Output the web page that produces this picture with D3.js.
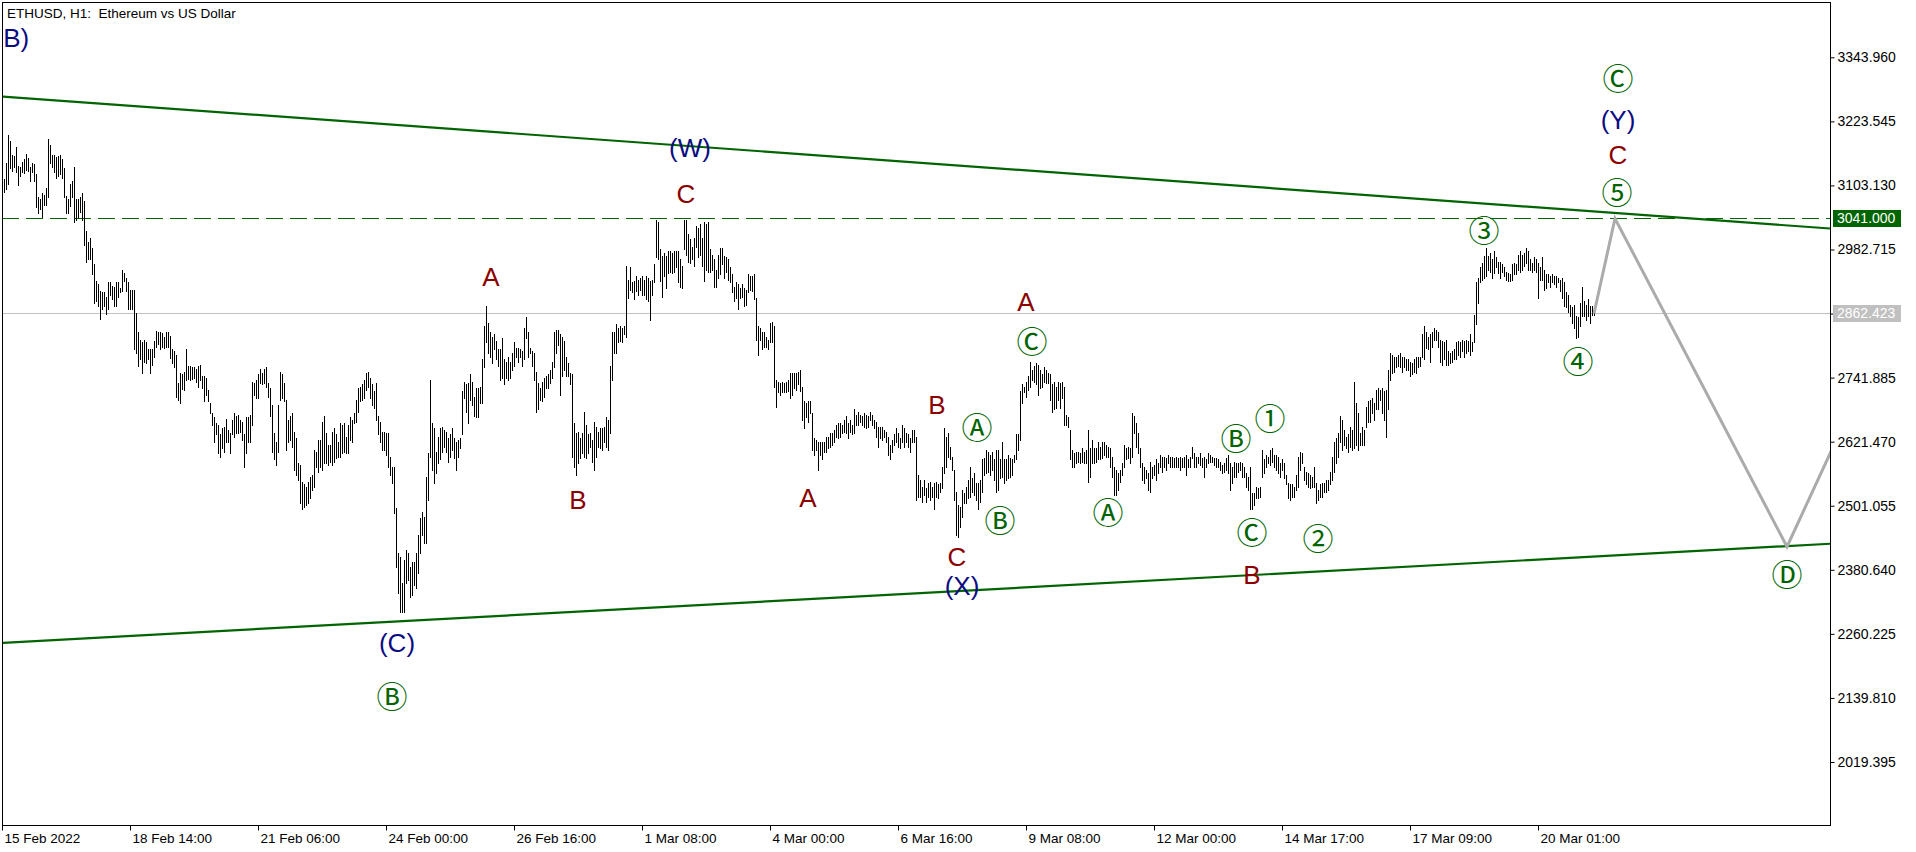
<!DOCTYPE html>
<html><head><meta charset="utf-8">
<script src="https://cdn.jsdelivr.net/npm/d3@7"></script>
<style>
html,body{margin:0;padding:0;background:#fff;overflow:hidden}
svg{display:block}
</style></head><body>
<svg id="chart" width="1916" height="852"></svg>
<script>
const title = "ETHUSD, H1:  Ethereum vs US Dollar";
const xTickLabels = ["15 Feb 2022","18 Feb 14:00","21 Feb 06:00","24 Feb 00:00","26 Feb 16:00","1 Mar 08:00","4 Mar 00:00","6 Mar 16:00","9 Mar 08:00","12 Mar 00:00","14 Mar 17:00","17 Mar 09:00","20 Mar 01:00"];
const barsPerTick = 64;
const yTicks = [3343.960,3223.545,3103.130,2982.715,2862.300,2741.885,2621.470,2501.055,2380.640,2260.225,2139.810,2019.395];

const highs = [
3116,3116,3146,3197,3186,3161,3158,3175,3139,3137,3148,3152,3163,3154,3137,3146,3143,3124,3082,3077,
3088,3086,3099,3190,3180,3160,3161,3156,3158,3160,3152,3135,3084,3077,3105,3111,3137,3077,3077,3081,
3088,3073,3017,2996,3005,2986,2956,2923,2917,2904,2902,2902,2894,2921,2921,2915,2913,2921,2921,2911,
2945,2939,2930,2921,2907,2907,2907,2864,2827,2813,2808,2813,2808,2795,2795,2795,2810,2830,2827,2828,
2825,2819,2827,2827,2821,2795,2791,2785,2732,2751,2749,2753,2795,2764,2763,2761,2761,2759,2763,2766,
2744,2744,2742,2719,2695,2676,2667,2657,2653,2635,2648,2650,2665,2644,2638,2663,2676,2669,2672,2663,
2659,2635,2667,2667,2672,2734,2732,2738,2748,2759,2751,2759,2761,2732,2723,2691,2638,2621,2691,2753,
2748,2732,2700,2663,2669,2676,2640,2629,2582,2578,2546,2541,2537,2546,2556,2558,2606,2603,2625,2625,
2659,2669,2638,2616,2616,2640,2648,2635,2621,2657,2653,2657,2631,2653,2667,2663,2676,2700,2723,2725,
2729,2738,2751,2753,2742,2729,2716,2732,2669,2659,2640,2640,2638,2638,2593,2574,2574,2497,2413,2405,
2356,2400,2418,2413,2386,2396,2396,2413,2447,2478,2490,2480,2556,2601,2738,2657,2648,2603,2631,2648,
2650,2644,2640,2629,2635,2648,2629,2620,2625,2629,2716,2734,2729,2732,2748,2734,2706,2723,2723,2725,
2776,2838,2876,2845,2827,2819,2823,2810,2795,2795,2817,2776,2772,2780,2772,2789,2808,2798,2798,2795,
2791,2836,2855,2828,2798,2791,2789,2753,2732,2723,2734,2742,2744,2748,2757,2772,2827,2832,2832,2823,
2819,2810,2780,2770,2751,2748,2657,2638,2640,2629,2638,2678,2653,2635,2638,2625,2659,2650,2640,2648,
2648,2650,2667,2663,2763,2828,2828,2842,2836,2838,2836,2838,2951,2926,2949,2921,2923,2932,2926,2930,
2932,2926,2932,2930,2923,2926,2955,3039,3034,2983,2970,2977,2970,2979,2979,2977,2979,2979,2979,2964,
2951,3039,3039,3011,3002,2988,3005,3026,3024,3030,3005,3034,3030,3035,2983,2973,2964,2945,2973,2986,
2986,2970,2968,2964,2949,2936,2913,2921,2917,2911,2917,2911,2907,2936,2932,2932,2936,2892,2838,2836,
2828,2827,2819,2813,2845,2847,2838,2738,2734,2732,2734,2732,2734,2738,2751,2751,2751,2751,2753,2757,
2725,2697,2695,2697,2697,2676,2629,2625,2620,2621,2621,2620,2631,2631,2638,2638,2644,2653,2657,2657,
2653,2663,2669,2657,2663,2653,2682,2672,2678,2672,2669,2676,2672,2669,2678,2672,2663,2659,2650,2650,
2650,2644,2640,2631,2616,2625,2635,2648,2638,2629,2653,2648,2638,2635,2629,2644,2644,2631,2559,2550,
2537,2550,2535,2544,2546,2537,2544,2546,2541,2544,2574,2648,2631,2638,2612,2593,2569,2527,2503,2499,
2531,2525,2537,2550,2573,2554,2563,2544,2544,2550,2588,2591,2606,2603,2597,2603,2588,2606,2606,2588,
2621,2588,2588,2597,2591,2588,2597,2635,2635,2716,2729,2725,2734,2744,2772,2757,2763,2770,2766,2757,
2748,2761,2757,2751,2748,2729,2734,2725,2734,2732,2734,2725,2672,2667,2644,2606,2601,2603,2603,2601,
2610,2603,2606,2644,2610,2625,2610,2610,2620,2612,2620,2620,2616,2612,2610,2593,2574,2569,2563,2569,
2582,2616,2610,2612,2610,2676,2669,2657,2638,2610,2582,2574,2569,2563,2584,2574,2578,2588,2582,2597,
2593,2593,2591,2597,2593,2593,2591,2593,2591,2593,2591,2593,2597,2588,2593,2612,2601,2593,2593,2601,
2591,2593,2588,2601,2597,2593,2591,2591,2588,2584,2578,2582,2591,2597,2582,2573,2584,2582,2582,2584,
2582,2574,2563,2556,2574,2525,2525,2537,2535,2537,2606,2588,2597,2593,2606,2610,2597,2597,2593,2582,
2588,2582,2559,2544,2541,2541,2537,2559,2593,2603,2601,2574,2565,2563,2559,2556,2574,2544,2531,2541,
2544,2544,2550,2550,2565,2593,2620,2629,2638,2669,2663,2644,2631,2635,2650,2644,2734,2695,2676,2638,
2650,2644,2687,2697,2700,2704,2695,2719,2723,2719,2723,2716,2719,2757,2789,2785,2781,2780,2785,2789,
2781,2780,2776,2776,2772,2770,2776,2780,2780,2781,2823,2838,2828,2819,2823,2828,2836,2832,2828,2813,
2810,2808,2813,2791,2789,2791,2795,2808,2810,2808,2813,2810,2813,2810,2823,2808,2860,2921,2930,2949,
2958,2970,2986,2970,2977,2964,2979,2968,2960,2960,2955,2949,2941,2939,2936,2955,2958,2955,2973,2979,
2973,2977,2986,2979,2964,2958,2968,2964,2958,2949,2968,2945,2936,2936,2932,2936,2932,2932,2930,2926,
2930,2921,2902,2898,2879,2874,2879,2857,2855,2883,2913,2885,2879,2889,2876,2876,2866
];

const lows = [
3090,3090,3096,3105,3135,3131,3137,3128,3103,3120,3128,3126,3133,3130,3111,3128,3111,3062,3052,3058,
3043,3067,3067,3082,3146,3137,3128,3118,3120,3124,3118,3082,3052,3052,3064,3081,3034,3039,3043,3054,
3039,2992,2960,2964,2964,2936,2883,2885,2876,2853,2870,2876,2862,2870,2898,2889,2876,2876,2894,2902,
2904,2923,2904,2870,2870,2870,2795,2789,2763,2776,2751,2772,2770,2776,2751,2766,2780,2800,2806,2796,
2800,2798,2800,2800,2778,2770,2761,2706,2700,2695,2721,2719,2738,2740,2738,2740,2742,2734,2725,2738,
2723,2697,2710,2697,2676,2653,2621,2635,2601,2593,2610,2603,2620,2620,2601,2635,2631,2638,2638,2640,
2625,2574,2601,2620,2620,2653,2710,2704,2704,2732,2729,2732,2725,2706,2669,2603,2588,2578,2603,2700,
2704,2697,2606,2621,2625,2612,2569,2559,2550,2507,2494,2499,2503,2507,2516,2531,2537,2574,2565,2573,
2569,2582,2582,2578,2584,2578,2584,2591,2593,2593,2601,2603,2601,2601,2625,2620,2657,2659,2678,2697,
2700,2704,2719,2725,2704,2691,2685,2663,2635,2621,2606,2606,2597,2574,2559,2544,2488,2386,2337,2302,
2302,2302,2356,2362,2330,2334,2352,2347,2375,2413,2447,2431,2431,2512,2593,2569,2544,2563,2582,2588,
2603,2612,2603,2584,2593,2606,2591,2569,2593,2610,2635,2704,2678,2657,2700,2691,2669,2667,2667,2695,
2695,2761,2808,2789,2781,2770,2795,2776,2763,2738,2742,2729,2742,2738,2742,2757,2763,2780,2772,2780,
2763,2776,2817,2780,2789,2763,2738,2678,2682,2700,2697,2706,2723,2723,2732,2742,2761,2789,2804,2710,
2744,2757,2744,2744,2729,2593,2574,2559,2582,2591,2601,2593,2591,2601,2612,2584,2569,2593,2612,2610,
2606,2620,2612,2606,2638,2738,2789,2789,2808,2810,2808,2823,2819,2892,2907,2902,2889,2904,2898,2907,
2898,2898,2889,2885,2851,2898,2921,2968,2964,2923,2894,2932,2911,2939,2941,2939,2941,2949,2921,2913,
2911,2983,2973,2960,2958,2964,2951,2988,2968,2973,2951,2923,2945,2941,2941,2945,2913,2913,2930,2936,
2955,2930,2941,2926,2921,2902,2885,2892,2870,2892,2894,2876,2879,2902,2907,2904,2889,2813,2785,2813,
2795,2800,2800,2795,2808,2808,2725,2687,2714,2710,2714,2714,2714,2716,2704,2710,2723,2719,2729,2716,
2663,2648,2667,2659,2676,2606,2597,2606,2569,2597,2588,2603,2603,2610,2612,2616,2620,2631,2629,2631,
2638,2640,2638,2629,2640,2635,2638,2653,2653,2659,2653,2650,2648,2650,2663,2653,2648,2631,2612,2629,
2625,2631,2620,2597,2588,2603,2616,2620,2612,2610,2620,2612,2620,2612,2603,2620,2620,2512,2518,2518,
2509,2522,2509,2518,2512,2518,2494,2518,2516,2526,2535,2563,2574,2593,2588,2569,2512,2447,2443,2462,
2480,2507,2507,2516,2518,2526,2522,2512,2494,2509,2527,2559,2563,2565,2559,2569,2550,2526,2531,2554,
2556,2544,2550,2554,2556,2559,2584,2588,2606,2625,2695,2714,2706,2719,2725,2738,2734,2729,2710,2723,
2725,2734,2732,2732,2700,2678,2682,2685,2700,2685,2704,2653,2653,2650,2588,2574,2573,2582,2584,2582,
2584,2582,2582,2546,2556,2582,2582,2584,2588,2588,2591,2597,2593,2593,2574,2556,2522,2522,2531,2546,
2559,2574,2588,2591,2582,2593,2638,2612,2601,2574,2550,2544,2554,2531,2526,2554,2559,2550,2563,2574,
2565,2574,2569,2582,2574,2574,2574,2573,2574,2569,2573,2574,2559,2573,2574,2591,2574,2574,2582,2578,
2573,2556,2574,2582,2584,2584,2578,2574,2574,2569,2563,2565,2569,2563,2531,2544,2556,2556,2565,2569,
2556,2556,2537,2531,2494,2494,2503,2516,2516,2518,2556,2563,2574,2582,2578,2584,2574,2569,2563,2556,
2569,2554,2541,2516,2512,2518,2518,2531,2537,2569,2582,2550,2541,2537,2535,2537,2537,2507,2512,2518,
2518,2526,2526,2531,2541,2550,2565,2582,2593,2621,2606,2616,2610,2603,2612,2606,2610,2616,2606,2616,
2616,2616,2650,2659,2659,2676,2663,2682,2682,2700,2676,2663,2631,2682,2738,2751,2753,2761,2763,2761,
2753,2761,2757,2757,2744,2748,2753,2751,2761,2763,2780,2776,2798,2795,2772,2800,2813,2813,2800,2772,
2766,2776,2766,2766,2770,2772,2776,2776,2785,2781,2791,2780,2789,2791,2785,2791,2808,2842,2883,2921,
2926,2930,2932,2945,2941,2930,2939,2949,2939,2930,2941,2932,2926,2923,2923,2926,2936,2936,2945,2941,
2945,2951,2958,2945,2945,2941,2945,2941,2892,2926,2926,2907,2911,2921,2913,2921,2917,2913,2921,2904,
2892,2876,2874,2866,2857,2845,2836,2817,2819,2838,2857,2857,2851,2857,2845,2860,2860
];

const levelLine = 3041.000;
const lastPrice = 2862.423;
const upperTrend = [[-1, 3270.6], [914, 3022.2]];
const lowerTrend = [[0, 2243.3], [914, 2429.6]];
const projection = [[796, 2862.4], [806.5, 3041], [892.5, 2424], [935, 2770]];

// [text, bar index, price, kind, anchor]
const waveLabels = [
 ["B)", 0.6, 3381.6, "navy", "start"],
 ["(W)", 344, 3174.6, "navy"],
 ["C", 342, 3088.1, "red"],
 ["A", 244.5, 2931.9, "red"],
 ["B", 288, 2512.3, "red"],
 ["A", 403, 2516.1, "red"],
 ["B", 467.5, 2691.1, "red"],
 ["C", 477.5, 2405.1, "red"],
 ["(X)", 480, 2350.5, "navy"],
 ["Ⓐ", 487.5, 2647.8, "green"],
 ["Ⓑ", 499, 2472.8, "green"],
 ["A", 512, 2884.9, "red"],
 ["Ⓒ", 515, 2809.6, "green"],
 ["Ⓐ", 553, 2487.9, "green"],
 ["Ⓑ", 617, 2627.1, "green"],
 ["①", 634, 2664.8, "green"],
 ["Ⓒ", 625, 2450.3, "green"],
 ["B", 625, 2371.2, "red"],
 ["②", 658, 2439.0, "green"],
 ["③", 741, 3018.5, "green"],
 ["④", 788, 2772.0, "green"],
 ["⑤", 807.5, 3090.0, "green"],
 ["C", 808, 3161.5, "red"],
 ["(Y)", 808, 3227.3, "navy"],
 ["Ⓒ", 808, 3302.6, "green"],
 ["Ⓓ", 892.5, 2371.2, "green"],
 ["(C)", 197.5, 2243.3, "navy"],
 ["Ⓑ", 195, 2141.7, "green"]
];

const colors = {navy: "#0c0c82", red: "#8b0000", green: "#006400"};

const svg = d3.select("#chart");
const L = 2, T = 2, R = 1830, B = 825;
const x = d3.scaleLinear().domain([0, 914]).range([2, 1830]);
const y = d3.scaleLinear().domain([2019.395, 3343.960]).range([762.0, 57.3]);

svg.append("defs").append("clipPath").attr("id", "plotClip")
  .append("rect").attr("x", L + 1).attr("y", T + 1).attr("width", R - L - 1).attr("height", B - T - 1);

const plot = svg.append("g").attr("clip-path", "url(#plotClip)");

// horizontal levels
plot.append("line")
  .attr("x1", L).attr("x2", R)
  .attr("y1", Math.round(y(lastPrice)) + 0.5).attr("y2", Math.round(y(lastPrice)) + 0.5)
  .attr("stroke", "#c0c0c0").attr("stroke-width", 1);
plot.append("line")
  .attr("x1", L).attr("x2", R)
  .attr("y1", Math.round(y(levelLine)) + 0.5).attr("y2", Math.round(y(levelLine)) + 0.5)
  .attr("stroke", "#006400").attr("stroke-width", 1).attr("stroke-dasharray", "17,7");

// bars
const n = Math.min(highs.length, lows.length);
plot.append("g").selectAll("rect").data(d3.range(n)).join("rect")
  .attr("x", i => Math.round(x(i)))
  .attr("y", i => Math.round(y(highs[i])))
  .attr("width", 1)
  .attr("height", i => Math.max(1, Math.round(y(lows[i])) - Math.round(y(highs[i])) + 1))
  .attr("fill", "#000")
  .attr("shape-rendering", "crispEdges");

// trend lines
const lineGen = d3.line().x(d => x(d[0])).y(d => y(d[1]));
[upperTrend, lowerTrend].forEach(t => {
  plot.append("path").attr("d", lineGen(t)).attr("fill", "none")
    .attr("stroke", "#006400").attr("stroke-width", 2.2);
});

// projection
plot.append("path").attr("d", lineGen(projection)).attr("fill", "none")
  .attr("stroke", "#ababab").attr("stroke-width", 3).attr("stroke-linejoin", "miter");

// wave labels
plot.append("g").selectAll("text").data(waveLabels).join("text")
  .attr("x", d => x(d[1]))
  .attr("y", d => y(d[2]))
  .attr("text-anchor", d => d[4] || "middle")
  .attr("dy", "0.36em")
  .attr("font-family", d => d[3] === "green" ? "'Noto Sans CJK JP', 'DejaVu Sans', sans-serif" : "'Liberation Sans', Arial, sans-serif")
  .attr("font-size", d => d[3] === "green" ? 31 : 26)
  .attr("fill", d => colors[d[3]])
  .text(d => d[0]);

// frame
svg.append("rect").attr("x", L + 0.5).attr("y", T + 0.5)
  .attr("width", R - L).attr("height", B - T)
  .attr("fill", "none").attr("stroke", "#000").attr("stroke-width", 1)
  .attr("shape-rendering", "crispEdges");

// y axis
const yAxis = svg.append("g").attr("transform", `translate(${R + 0.5},0)`)
  .call(d3.axisRight(y).tickValues(yTicks).tickSize(4).tickPadding(3).tickFormat(d3.format(".3f")));
yAxis.select(".domain").remove();
yAxis.selectAll("text").attr("font-family", "'Liberation Sans', Arial, sans-serif").attr("font-size", 14).attr("fill", "#000");
yAxis.selectAll("line").attr("stroke", "#000");

// x axis
const xAxis = svg.append("g").attr("transform", `translate(0,${B + 0.5})`)
  .call(d3.axisBottom(x).tickValues(xTickLabels.map((_, k) => k * barsPerTick))
    .tickSize(5).tickPadding(3).tickFormat((d, k) => xTickLabels[k]));
xAxis.select(".domain").remove();
xAxis.selectAll("text").attr("text-anchor", "start").attr("dx", 2)
  .attr("font-family", "'Liberation Sans', Arial, sans-serif").attr("font-size", 13.5).attr("fill", "#000");
xAxis.selectAll("line").attr("stroke", "#000");

// price tags
function tag(price, bg) {
  const yy = Math.round(y(price)) + 0.5;
  svg.append("rect").attr("x", R + 3).attr("y", yy - 8.5).attr("width", 68).attr("height", 17).attr("fill", bg);
  svg.append("text").attr("x", R + 7).attr("y", yy).attr("dy", "0.35em")
    .attr("font-family", "'Liberation Sans', Arial, sans-serif").attr("font-size", 14)
    .attr("fill", "#fff").text(d3.format(".3f")(price));
}
tag(levelLine, "#006400");
tag(lastPrice, "#c0c0c0");

// title
svg.append("text").attr("x", 7).attr("y", 18)
  .attr("font-family", "'Liberation Sans', Arial, sans-serif").attr("font-size", 13.5)
  .attr("fill", "#000").style("white-space", "pre").text(title);
</script>
</body></html>
